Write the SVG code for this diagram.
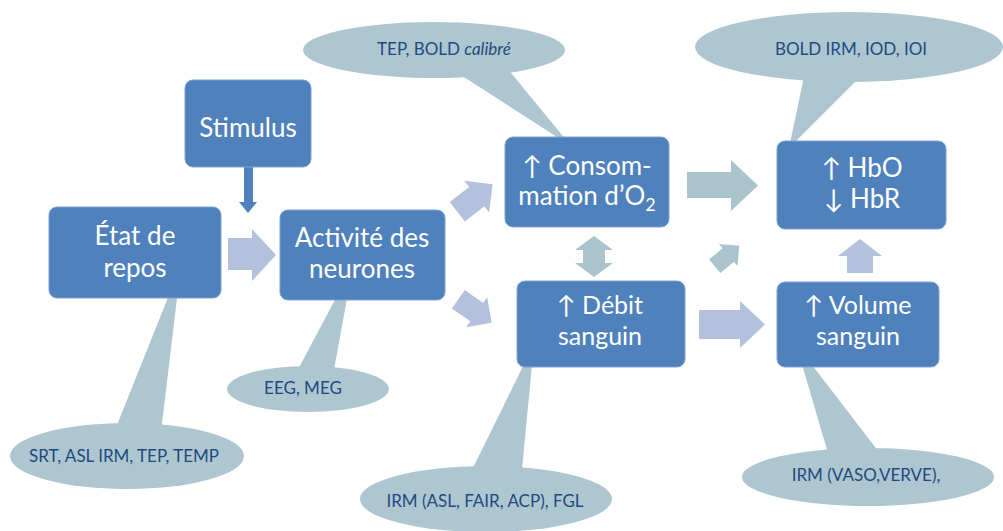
<svg xmlns="http://www.w3.org/2000/svg" width="1003" height="531" viewBox="0 0 1003 531">
  <defs>
    <style>
      .box { fill: #4f81bd; stroke: #7ea3d2; stroke-width: 1; }
      .bt { font-family: Lato, "Liberation Sans", sans-serif; font-size: 26px; fill: #ffffff; text-anchor: middle; }
      .bs { font-size: 25px; }
      .co { fill: #adc6d0; }
      .ct { font-family: Lato, "Liberation Sans", sans-serif; font-size: 17px; fill: #1f4a80; text-anchor: middle; }
      .ap { fill: #b3c1dc; }
      .at { fill: #a9c4cc; }
      .ad { fill: #4f81bd; }
    </style>
    <path id="diag" d="M-20,-11 H2 V-18 L20,0 L2,18 V11 H-20 Z"/>
  </defs>
  <rect width="1003" height="531" fill="#ffffff"/>

  <!-- callouts (behind boxes) -->
  <g id="callout-tep">
    <polygon class="co" points="453,70 507,68 571,146"/>
    <ellipse class="co" cx="434" cy="50" rx="131" ry="28"/>
    <text class="ct" x="444" y="55">TEP, BOLD <tspan font-style="italic">calibré</tspan></text>
  </g>
  <g id="callout-bold">
    <polygon class="co" points="805,72 865,72 789,148"/>
    <ellipse class="co" cx="849" cy="47" rx="154" ry="35"/>
    <text class="ct" x="851" y="55">BOLD IRM, IOD, IOI</text>
  </g>
  <g id="callout-srt">
    <polygon class="co" points="111,440 160,440 181,265"/>
    <ellipse class="co" cx="127" cy="456" rx="117" ry="33"/>
    <text class="ct" x="124" y="462">SRT, ASL IRM, TEP, TEMP</text>
  </g>
  <g id="callout-eeg">
    <polygon class="co" points="295,375 333,375 353,266"/>
    <ellipse class="co" cx="308" cy="389" rx="81" ry="23"/>
    <text class="ct" x="303" y="394">EEG, MEG</text>
  </g>
  <g id="callout-irm-asl">
    <polygon class="co" points="467,480 521,480 534,344"/>
    <ellipse class="co" cx="486" cy="499" rx="126" ry="33"/>
    <text class="ct" x="485" y="507">IRM (ASL, FAIR, ACP), FGL</text>
  </g>
  <g id="callout-irm-vaso">
    <polygon class="co" points="830,460 885,460 796,344"/>
    <ellipse class="co" cx="868" cy="477" rx="126" ry="29"/>
    <text class="ct" x="866" y="481">IRM (VASO,VERVE),</text>
  </g>

  <!-- connectors -->
  <g id="connectors">
    <path class="ad" d="M244,167 H253 V202 H257 L248,213 L239,202 H244 Z"/>
    <path class="ap" d="M228,238 H252 V229 L276,255 L252,281 V270 H228 Z"/>
    <use href="#diag" class="ap" transform="translate(475,198) rotate(-38) scale(1.12)"/>
    <use href="#diag" class="ap" transform="translate(475,311) rotate(35) scale(1.02)"/>
    <path class="at" d="M594,236 L613,250 H605 V263 H613 L594,277 L575,263 H583 V250 H575 Z"/>
    <path class="at" d="M687,172 H731 V160 L758,185.5 L731,211 V198 H687 Z"/>
    <use href="#diag" class="at" transform="translate(727,256) rotate(-40) scale(0.8)"/>
    <path class="ap" d="M699,310 H740 V301 L765,324.5 L740,348 V339 H699 Z"/>
    <path class="ap" d="M847,273 V256 H838 L860,239 L882,256 H873 V273 Z"/>
  </g>

  <!-- nodes -->
  <g id="node-stimulus">
    <rect class="box" x="185" y="80" width="126" height="87" rx="8"/>
    <text class="bt" x="248" y="137">Stimulus</text>
  </g>
  <g id="node-etat">
    <rect class="box" x="49" y="207" width="172" height="91" rx="8"/>
    <text class="bt" x="135" y="245">État de</text>
    <text class="bt" x="135" y="277">repos</text>
  </g>
  <g id="node-activite">
    <rect class="box" x="280" y="210" width="165" height="90" rx="8"/>
    <text class="bt" x="362" y="247">Activité des</text>
    <text class="bt" x="362" y="278">neurones</text>
  </g>
  <g id="node-consommation">
    <rect class="box" x="505" y="137" width="164" height="90" rx="8"/>
    <text class="bt" x="587" y="175">↑ Consom-</text>
    <text class="bt" x="587" y="205">mation d’O<tspan font-size="18" dy="6">2</tspan></text>
  </g>
  <g id="node-debit">
    <rect class="box" x="517" y="281" width="168" height="86" rx="8"/>
    <text class="bt bs" x="600" y="314">↑ Débit</text>
    <text class="bt bs" x="600" y="345">sanguin</text>
  </g>
  <g id="node-hb">
    <rect class="box" x="777" y="141" width="169" height="88" rx="8"/>
    <text class="bt" x="862" y="177">↑ HbO</text>
    <text class="bt" x="862" y="208">↓ HbR</text>
  </g>
  <g id="node-volume">
    <rect class="box" x="777" y="282" width="162" height="85" rx="8"/>
    <text class="bt bs" x="858" y="314">↑ Volume</text>
    <text class="bt bs" x="858" y="345">sanguin</text>
  </g>
</svg>
